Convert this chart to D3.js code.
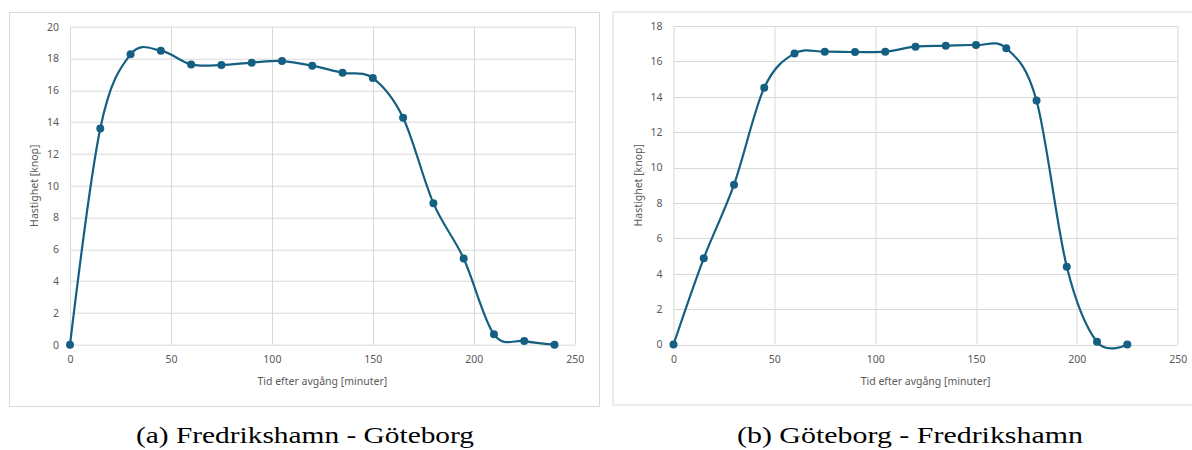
<!DOCTYPE html>
<html lang="sv">
<head>
    <meta charset="UTF-8">
    <title>Hastighet</title>
    <style>
        body { margin: 0; background: #fff; }
        .grid line { stroke: #d9d9d9; stroke-width: 1px; }
        .tick text { fill: #595959; font-family: "Noto Sans", sans-serif; font-size: 10.5px; }
        .title { fill: #595959; font-family: "Noto Sans", sans-serif; font-size: 10.5px; }
        .caption { fill: #000; font-family: "Liberation Serif", serif; font-size: 23px; }
        .line { fill: none; stroke: #156082; stroke-width: 2.2px; }
    </style>
</head>
<body>

<svg width="1192" height="450"></svg>

<script src="https://cdn.jsdelivr.net/npm/d3@7"></script>

<script>
    // data
    var timesA = [0, 15, 30, 45, 60, 75, 90, 105, 120, 135, 150, 165, 180, 195, 210, 225, 240];
    var speedA = [0, 13.6, 18.26, 18.49, 17.63, 17.59, 17.74, 17.84, 17.55, 17.1, 16.77, 14.28, 8.9, 5.42, 0.65, 0.23, 0];
    var timesB = [0, 15, 30, 45, 60, 75, 90, 105, 120, 135, 150, 165, 180, 195, 210, 225];
    var speedB = [0, 4.87, 9.03, 14.51, 16.45, 16.55, 16.53, 16.55, 16.83, 16.88, 16.92, 16.74, 13.79, 4.4, 0.15, 0];
    var xTicks = [0, 50, 100, 150, 200, 250];
    var yTicksA = [0, 2, 4, 6, 8, 10, 12, 14, 16, 18, 20];
    var yTicksB = [0, 2, 4, 6, 8, 10, 12, 14, 16, 18];
    var captions = ["(a) Fredrikshamn - Göteborg", "(b) Göteborg - Fredrikshamn"];
    var xTitle = "Tid efter avgång [minuter]";
    var yTitle = "Hastighet [knop]";

    var svg = d3.select("svg");

    function drawPanel(p) {
        var g = svg.append("g").attr("transform", `translate(${p.left}, ${p.top})`);

        // outer chart border
        g.append("rect")
            .attr("x", 0.5).attr("y", 0.5)
            .attr("width", p.w).attr("height", p.h)
            .attr("fill", "#fff").attr("stroke", "#d9d9d9");

        var margin = {top: p.mt, right: p.mr, bottom: p.mb, left: 61};
        var width = p.w - margin.left - margin.right;
        var height = p.h - margin.top - margin.bottom;
        var plot = g.append("g").attr("transform", `translate(${margin.left}, ${margin.top})`);

        var x = d3.scaleLinear().domain([0, 250]).range([0, width]);
        var y = d3.scaleLinear().domain([0, p.ymax]).range([height, 0]);

        // gridlines
        plot.append("g").attr("class", "grid")
            .selectAll("line").data(p.yTicks).join("line")
            .attr("x1", 0).attr("x2", width)
            .attr("y1", d => Math.round(y(d)) + 0.5).attr("y2", d => Math.round(y(d)) + 0.5);
        plot.append("g").attr("class", "grid")
            .selectAll("line").data(xTicks).join("line")
            .attr("y1", 0).attr("y2", height)
            .attr("x1", d => Math.round(x(d)) + 0.5).attr("x2", d => Math.round(x(d)) + 0.5);

        // axes (labels only)
        var ax = plot.append("g")
            .attr("transform", `translate(0, ${height})`)
            .call(d3.axisBottom(x).tickValues(xTicks).tickSize(0).tickPadding(11));
        ax.select(".domain").remove();

        var ay = plot.append("g")
            .call(d3.axisLeft(y).tickValues(p.yTicks).tickSize(0).tickPadding(11));
        ay.select(".domain").remove();

        plot.append("text").attr("class", "title")
            .attr("x", width / 2).attr("y", height + 40)
            .attr("text-anchor", "middle")
            .text(xTitle);

        plot.append("text").attr("class", "title")
            .attr("transform", `translate(-32, ${height / 2}) rotate(-90)`)
            .attr("text-anchor", "middle")
            .text(yTitle);

        var pts = p.times.map((t, i) => ({t: t, v: p.speed[i]}));

        var line = d3.line()
            .x(d => x(d.t))
            .y(d => y(d.v))
            .curve(d3.curveCatmullRom.alpha(0));

        plot.append("path").datum(pts)
            .attr("class", "line")
            .attr("d", line);

        plot.selectAll("circle").data(pts).join("circle")
            .attr("cx", d => x(d.t))
            .attr("cy", d => y(d.v))
            .attr("r", 4)
            .attr("fill", "#156082");

        svg.append("text").attr("class", "caption")
            .attr("x", p.capX).attr("y", 443)
            .attr("text-anchor", "middle")
            .attr("textLength", p.capW)
            .attr("lengthAdjust", "spacingAndGlyphs")
            .text(p.caption);
    }

    drawPanel({left: 9, top: 12, w: 590, h: 394, mt: 14.7, mr: 24.3, mb: 61.3,
        ymax: 20, yTicks: yTicksA, times: timesA, speed: speedA, caption: captions[0], capX: 305, capW: 338});
    drawPanel({left: 612.5, top: 11.5, w: 580, h: 393, mt: 14.5, mr: 14.8, mb: 60,
        ymax: 18, yTicks: yTicksB, times: timesB, speed: speedB, caption: captions[1], capX: 910, capW: 346});
</script>
</body>
</html>
